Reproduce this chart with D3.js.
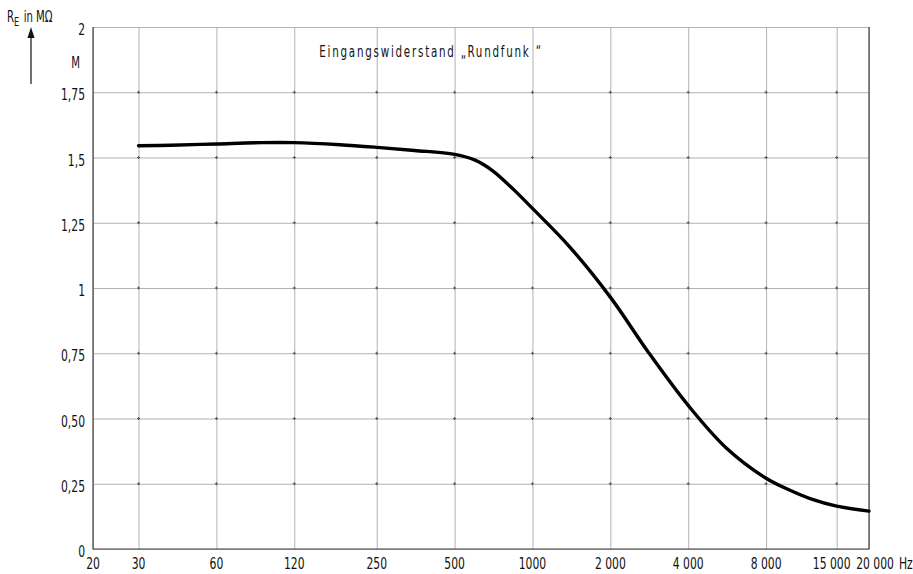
<!DOCTYPE html>
<html>
<head>
<meta charset="utf-8">
<script src="https://cdn.jsdelivr.net/npm/d3@7"></script>
<style>
  body { margin: 0; background: #fff; }
  svg { display: block; }
  .lbl { font-family: "DejaVu Sans Condensed", "Liberation Sans Narrow", sans-serif; fill: #111; }
  .grid line { stroke: #a0a0a0; stroke-width: 0.8; }
  .grid path { display: none; }
</style>
</head>
<body>
<div id="chart"></div>
<script>
// frequency ticks (Hz) and their printed labels
var freqTicks = [20, 30, 60, 120, 250, 500, 1000, 2000, 4000, 8000, 15000, 20000];
var freqLabels = ["20", "30", "60", "120", "250", "500", "1000", "2 000", "4 000", "8 000", "15 000", "20 000"];

// resistance ticks (MOhm)
var resTicks = [0, 0.25, 0.5, 0.75, 1, 1.25, 1.5, 1.75, 2];
var resLabels = ["0", "0,25", "0,50", "0,75", "1", "1,25", "1,5", "1,75", "2"];

// curve
var curveFreq = [30, 40, 60, 90, 120, 180, 250, 350, 500, 600, 700, 850, 1000, 1400, 2000, 2800, 4000, 5600, 8000, 9900, 12000, 15000, 20000];
var curveRes  = [1.545, 1.547, 1.552, 1.557, 1.557, 1.549, 1.539, 1.527, 1.512, 1.49, 1.45, 1.375, 1.305, 1.155, 0.965, 0.755, 0.55, 0.388, 0.271, 0.225, 0.191, 0.164, 0.145];

var W = 913, H = 574;
var pLeft = 93, pRight = 869, pTop = 27, pBottom = 549;
var narrow = 0.75;

var svg = d3.select("#chart").append("svg")
    .attr("width", W)
    .attr("height", H);

var x = d3.scaleLog().domain([20, 20000]).range([pLeft, pRight]);
var y = d3.scaleLinear().domain([0, 2]).range([pBottom, pTop]);

// narrow lettering like the stencil font of the original
function label(px, py, str, size, anchor) {
    return svg.append("text")
        .attr("class", "lbl")
        .attr("transform", "translate(" + px + "," + py + ") scale(" + narrow + ",1)")
        .attr("text-anchor", anchor || "start")
        .style("font-size", size + "px")
        .text(str);
}

// vertical grid
svg.append("g")
    .attr("class", "grid")
    .attr("transform", "translate(0," + pBottom + ")")
    .call(d3.axisBottom(x).tickValues(freqTicks).tickSize(-(pBottom - pTop)).tickFormat(""));

// horizontal grid
svg.append("g")
    .attr("class", "grid")
    .attr("transform", "translate(" + pLeft + ",0)")
    .call(d3.axisLeft(y).tickValues(resTicks).tickSize(-(pRight - pLeft)).tickFormat(""));

// little marks where grid lines cross
var cross = [];
freqTicks.slice(1, -1).forEach(function (f) {
    resTicks.slice(1, -1).forEach(function (r) { cross.push([f, r]); });
});
svg.append("g").selectAll("path")
    .data(cross)
    .enter().append("path")
    .attr("d", function (d) {
        var cx = x(d[0]), cy = y(d[1]);
        return "M" + (cx - 1.5) + "," + cy + "h3M" + cx + "," + (cy - 1.5) + "v3";
    })
    .attr("stroke", "#555")
    .attr("stroke-width", 1);

// frame
svg.append("path")
    .attr("d", "M" + pLeft + "," + pTop + "V" + pBottom + "H" + pRight + "V" + pTop)
    .attr("fill", "none")
    .attr("stroke", "#444")
    .attr("stroke-width", 1.2);

// x labels (the last two are nudged apart as in the original)
freqTicks.forEach(function (d, i) {
    var shift = 0;
    if (d === 15000) shift = -5;
    if (d === 20000) shift = 6;
    label(x(d) + shift, pBottom + 20, freqLabels[i], 16, "middle");
});
label(899, pBottom + 20, "Hz", 16);

// y labels
resTicks.forEach(function (d, i) {
    label(pLeft - 8, y(d) + 8, resLabels[i], 16, "end");
});
label(80, 68, "M", 15, "end");

// axis title with arrow
var yt = svg.append("text")
    .attr("class", "lbl")
    .attr("transform", "translate(7,22) scale(" + narrow + ",1)")
    .style("font-size", "15px");
yt.append("tspan").text("R");
yt.append("tspan").attr("dy", 4).style("font-size", "12px").text("E");
yt.append("tspan").attr("dy", -4).attr("dx", 6).text("in MΩ");

svg.append("line")
    .attr("x1", 31).attr("y1", 84)
    .attr("x2", 31).attr("y2", 35)
    .attr("stroke", "#111")
    .attr("stroke-width", 1.2);
svg.append("path")
    .attr("d", "M31,27L27.5,38H34.5Z")
    .attr("fill", "#111");

// chart title
svg.append("text")
    .attr("class", "lbl")
    .attr("transform", "translate(431,57) scale(0.74,1)")
    .attr("text-anchor", "middle")
    .style("font-size", "15.5px")
    .style("letter-spacing", "2.4px")
    .text("Eingangswiderstand „Rundfunk “");

// the curve
var pts = curveFreq.map(function (f, i) { return [f, curveRes[i]]; });
var line = d3.line()
    .x(function (d) { return x(d[0]); })
    .y(function (d) { return y(d[1]); })
    .curve(d3.curveCatmullRom.alpha(0.5));

svg.append("path")
    .datum(pts)
    .attr("d", line)
    .attr("fill", "none")
    .attr("stroke", "#000")
    .attr("stroke-width", 3.4)
    .attr("stroke-linecap", "round");
</script>
</body>
</html>
